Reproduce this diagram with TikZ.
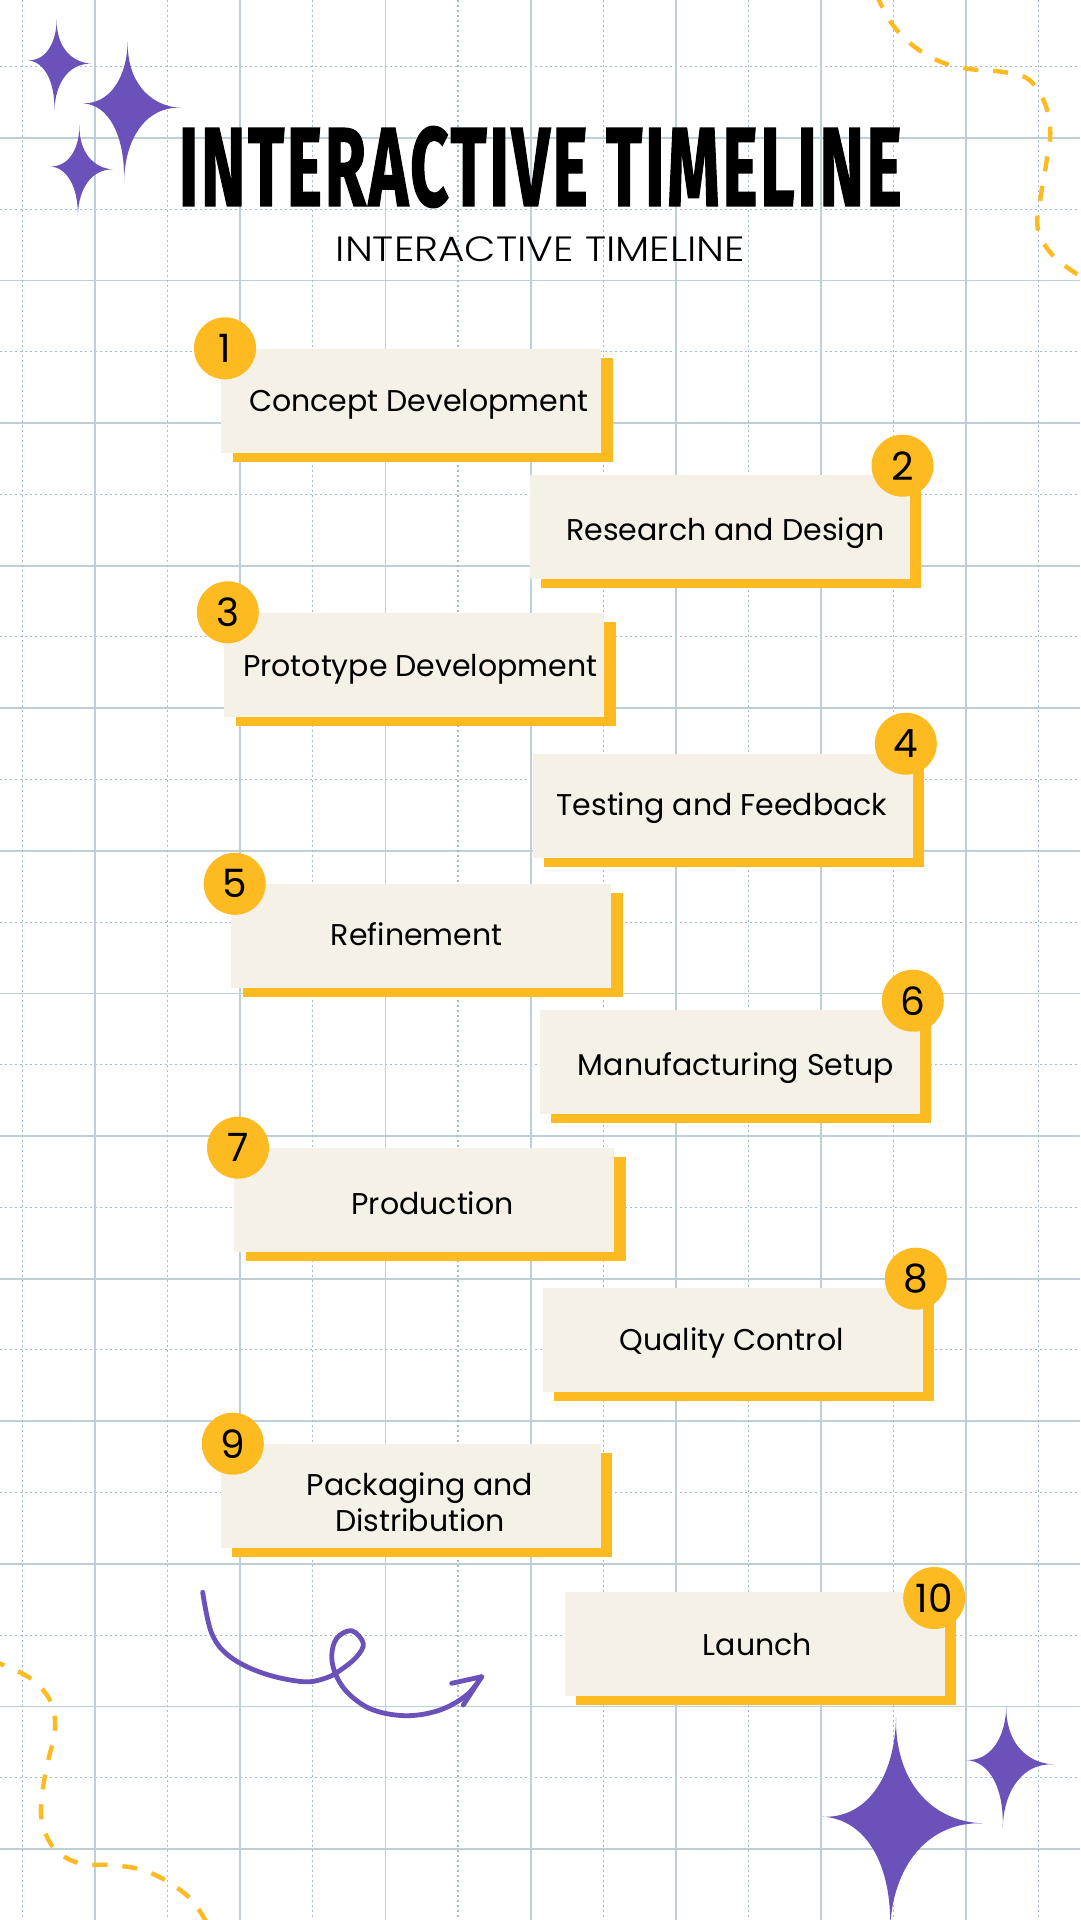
\documentclass[tikz,border=0pt]{standalone}
\usepackage{fontspec}
\usepackage{graphicx}
\usetikzlibrary{calc}
\setmainfont{Poppins}
\newfontfamily\titlefont{Fira Sans}[FakeBold=1.6, LetterSpace=4]
\newfontfamily\subfont{Poppins Light}
\definecolor{gold}{HTML}{FDBA21}
\definecolor{cream}{HTML}{F5F1E6}
\definecolor{sparkpurple}{HTML}{6B52BB}
\definecolor{gridsolidc}{HTML}{BDD0D9}
\definecolor{griddotc}{HTML}{A3BCC8}
\tikzset{
  stepbox/.style={rectangle, fill=cream, minimum width=380pt, minimum height=103.7pt, inner sep=0pt},
  shadowbox/.style={rectangle, fill=gold, minimum width=380pt, minimum height=103.7pt, inner sep=0pt},
  steptext/.style={font=\fontsize{30}{36}\selectfont, inner sep=0pt, text=black},
  numdot/.style={circle, fill=gold, minimum size=62pt, inner sep=0pt, font=\fontsize{39}{40}\selectfont, text=black},
  gridsolid/.style={draw=gridsolidc, line width=1.8pt},
  griddot/.style={draw=griddotc, line width=1.1pt, dash pattern=on 2pt off 3pt},
  dashcurve/.style={draw=gold, line width=4.4pt, dash pattern=on 15pt off 15pt},
  swirl/.style={draw=sparkpurple, line width=4.8pt, line cap=round, line join=round},
}
% center, top, right, bottom, left
\newcommand\sparkle[5]{%
  \fill[sparkpurple] (#2) .. controls ($(#1)!0.4!(#2)$) and ($(#1)!0.4!(#3)$) .. (#3)
    .. controls ($(#1)!0.4!(#3)$) and ($(#1)!0.4!(#4)$) .. (#4)
    .. controls ($(#1)!0.4!(#4)$) and ($(#1)!0.4!(#5)$) .. (#5)
    .. controls ($(#1)!0.4!(#5)$) and ($(#1)!0.4!(#2)$) .. cycle;}
% id, cx, cy, text cx, baseline, circle x, circle y, number, text
\newcommand\tlstep[9]{%
  \node[shadowbox] (s#1) at (#2+11.5,#3+9.3) {};
  \node[stepbox] (b#1) at (#2,#3) {};
  \node[steptext, anchor=base] (t#1) at (#4,#5) {#9};
  \node[numdot] (n#1) at (#6,#7) {#8};}
\begin{document}
\begin{tikzpicture}[x=1pt,y=-1pt]
\useasboundingbox (0,0) rectangle (1080,1920);
\fill[white] (0,0) rectangle (1080,1920);
% grid
\foreach \k in {0,...,13} \draw[griddot] (0,{66.5+142.6*\k}) -- (1080,{66.5+142.6*\k});
\foreach \k in {0,...,12} \draw[gridsolid] (0,{137.8+142.6*\k}) -- (1080,{137.8+142.6*\k});
\foreach \k in {0,...,7} \draw[griddot] ({22.4+145.2*\k},0) -- ({22.4+145.2*\k},1920);
\foreach \k in {0,...,6} \draw[gridsolid] ({95+145.2*\k},0) -- ({95+145.2*\k},1920);
% dashed curves
\draw[dashcurve] plot[smooth, tension=0.6] coordinates {(876,-6) (891,22.4) (911.9,44.8) (939.4,61.3) (968.7,68.9) (998,71.3) (1027.3,78.5) (1044.5,102.6) (1050.3,132.6) (1046.2,163.6) (1041,194.6) (1037.6,227.3) (1050.7,253) (1073.8,272) (1090,279)};
\draw[dashcurve] plot[smooth, tension=0.6] coordinates {(-10,1661) (3.3,1665) (31.7,1679.3) (50.7,1701.7) (55,1730) (48.3,1760) (42.7,1790) (41.7,1820) (54,1848.3) (79.3,1863.3) (110,1865) (140,1869.3) (166.7,1881) (191.7,1900) (208,1925)};
% sparkles
\sparkle{55.6,62}{56.8,19.6}{91.9,63.7}{54.4,110.9}{27.5,60.3}
\sparkle{126,105}{127.8,41.3}{180.8,107.8}{124,181.5}{82.6,103.3}
\sparkle{78.7,168}{79.5,125.7}{113.6,169.4}{77.8,216.3}{49.9,166.3}
\sparkle{894,1820}{896,1717.3}{982.7,1823.3}{890,1930}{822.3,1816.7}
\sparkle{1005,1762}{1006.3,1706}{1053.3,1764.3}{1002.7,1827.3}{966,1760}
% swirl arrow
\coordinate (tip) at (481.7,1676.7);
\coordinate (barbA) at (451.7,1683.3);
\coordinate (barbB) at (463.3,1705);
\draw[swirl] plot[smooth, tension=0.6] coordinates {(202.7,1592.3) (211.7,1633.3) (230,1656.7) (263.3,1673.3) (303.3,1681.7) (326.7,1677.7) (342,1669) (356.7,1656.7) (363.3,1643.3) (351.7,1630.7) (336.7,1638.3) (331.7,1656.7) (336.7,1676.7) (350,1695) (373.3,1710) (406.7,1715.7) (440,1710) (466.7,1695) (481.7,1676.7)};
\draw[swirl] (barbA) -- (tip) -- (barbB);
% title
\node[inner sep=0pt] (title) at (540.3,167) {\resizebox{722.6pt}{79.2pt}{\titlefont\bfseries INTERACTIVE TIMELINE}};
\node[inner sep=0pt] (subtitle) at (540.3,249.3) {\resizebox{409.2pt}{24.8pt}{\subfont INTERACTIVE TIMELINE}};
% steps
\tlstep{1}{411}{400.85}{418.7}{411.7}{225}{348.3}{1}{Concept Development}
\tlstep{2}{719.7}{526.85}{725.5}{540}{902.5}{465.7}{2}{Research and Design}
\tlstep{3}{414.2}{664.85}{420.3}{676.7}{227.8}{612.3}{3}{Prototype Development}
\tlstep{4}{722.9}{805.85}{722}{815}{905.8}{743.7}{4}{Testing and Feedback}
\tlstep{5}{421}{935.85}{416.7}{945}{234.7}{883.8}{5}{Refinement}
\tlstep{6}{729.7}{1061.85}{735.8}{1075}{912.8}{1000.7}{6}{Manufacturing Setup}
\tlstep{7}{424.2}{1199.85}{432.7}{1214.3}{238}{1147.7}{7}{Production}
\tlstep{8}{732.9}{1340.15}{731.7}{1350}{915.8}{1278.7}{8}{Quality Control}
\tlstep{9}{410.9}{1495.85}{420}{1495}{232.8}{1443.7}{9}{Packaging and}
\node[steptext, anchor=base] (t9b) at (420,1531) {Distribution};
\tlstep{10}{754.7}{1644.15}{757.3}{1655}{934.2}{1598}{10}{Launch}
\end{tikzpicture}
\end{document}
